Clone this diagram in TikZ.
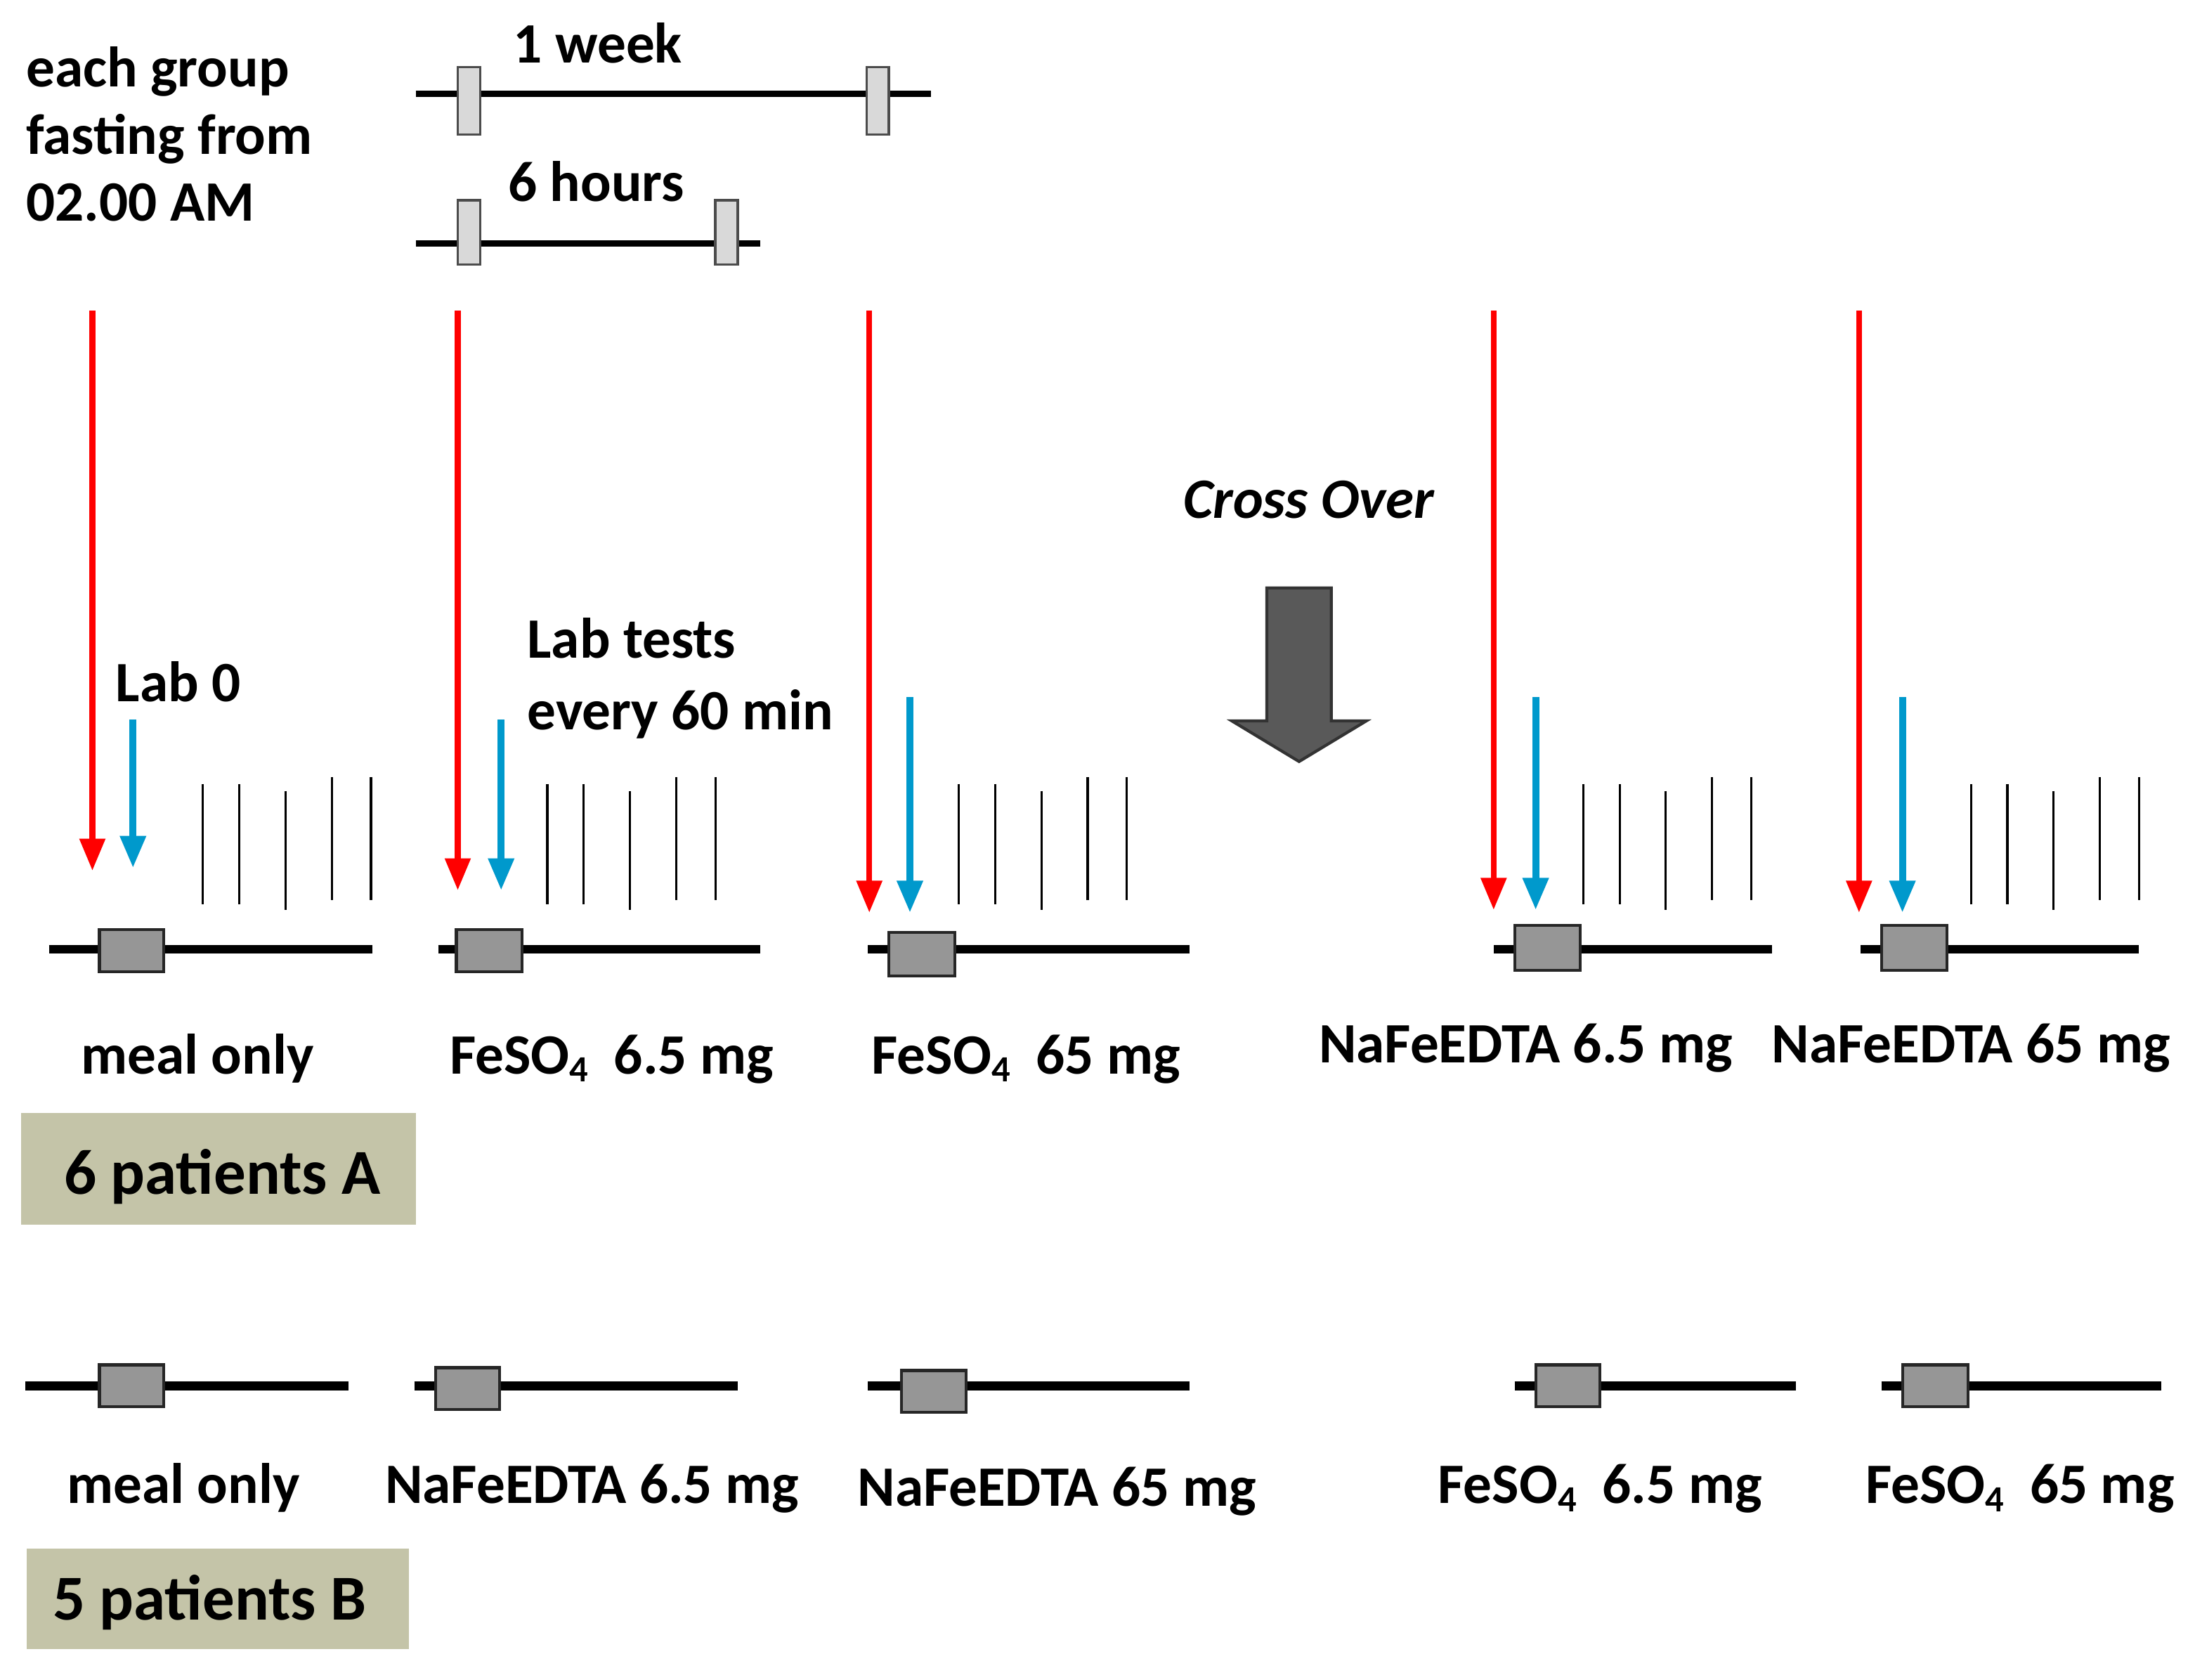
\documentclass[tikz,border=0pt]{standalone}
\usepackage{fontspec}
\setmainfont{Carlito}
\usetikzlibrary{arrows.meta}

\definecolor{fastred}{RGB}{255,0,0}
\definecolor{labblue}{RGB}{0,153,204}
\definecolor{dosegrey}{RGB}{150,150,150}
\definecolor{markgrey}{RGB}{217,217,217}
\definecolor{groupbg}{RGB}{196,196,168}
\definecolor{crossgrey}{RGB}{89,89,89}

\newcommand{\feso}{FeSO\raisebox{-0.3ex}{\fontsize{7.5}{7.5}\selectfont 4}}

\tikzset{
    txt/.style={inner sep=0pt, font=\fontsize{11.6}{13.7}\selectfont\bfseries},
    grouptxt/.style={inner sep=0pt, font=\fontsize{13}{15}\selectfont\bfseries},
    redarrow/.style={draw=fastred, line width=1.2pt, -{Triangle[width=5pt,length=6.5pt]}},
    bluearrow/.style={draw=labblue, line width=1.4pt, -{Triangle[width=5pt,length=6.5pt]}},
    timebar/.style={draw=black, line width=1.8pt},
    scalebar/.style={draw=black, line width=1.3pt},
    dosebox/.style={draw=black!85, fill=dosegrey, line width=0.6pt},
    markbox/.style={draw=black!70, fill=markgrey, line width=0.5pt},
    labtick/.style={draw=black, line width=0.45pt}
}

\begin{document}
\begin{tikzpicture}[x=0.01cm, y=-0.01cm]
    \useasboundingbox (0,0) rectangle (1568,1200);

    % header
    \node[txt, anchor=base west] (fast1) at (18,62) {each group};
    \node[txt, anchor=base west] (fast2) at (18,110) {fasting from};
    \node[txt, anchor=base west] (fast3) at (18,158) {02.00 AM};

    \node[txt, anchor=base] (week) at (427,45) {1 week};
    \draw[scalebar] (297,67) -- (665,67);
    \draw[markbox] (327,48) rectangle (343,96);
    \draw[markbox] (619,48) rectangle (635,96);

    \node[txt, anchor=base] (hours) at (426,144) {6 hours};
    \draw[scalebar] (297,174) -- (543,174);
    \draw[markbox] (327,143) rectangle (343,189);
    \draw[markbox] (511,143) rectangle (527,189);

    % fasting and lab arrows
    \foreach \x/\e in {66/622, 327/636, 621/652, 1067/650, 1328/652}
        \draw[redarrow] (\x,222) -- (\x,\e);
    \foreach \x/\s/\e in {95/514/620, 358/514/636, 650/498/652, 1097/498/650, 1359/498/652}
        \draw[bluearrow] (\x,\s) -- (\x,\e);

    % hourly lab tests
    \foreach \g in {145, 391, 685, 1131, 1408}
        \foreach \d/\t/\b in {0/560/646, 26/560/646, 59/565/650, 92/555/643, 120/555/643}
            \draw[labtick] (\g+\d,\t) -- (\g+\d,\b);

    \node[txt, anchor=base west] (lab0) at (82,501) {Lab 0};
    \node[txt, anchor=base west] (labs1) at (376,470) {Lab tests};
    \node[txt, anchor=base west] (labs2) at (376,521) {every 60 min};

    % cross over
    \node[txt, anchor=base] (cross) at (935,370) {\itshape Cross Over};
    \draw[draw=black!80, fill=crossgrey, line width=0.6pt]
        (905,420) -- (951,420) -- (951,515) -- (976,515) -- (928,544)
        -- (880,515) -- (905,515) -- cycle;

    % group A
    \draw[timebar] (35,678) -- (266,678);
    \draw[dosebox] (71,664) rectangle (117,694);
    \draw[timebar] (313,678) -- (543,678);
    \draw[dosebox] (326,664) rectangle (373,694);
    \draw[timebar] (620,678) -- (850,678);
    \draw[dosebox] (635,666) rectangle (682,697);
    \draw[timebar] (1067,678) -- (1266,678);
    \draw[dosebox] (1082,661) rectangle (1129,693);
    \draw[timebar] (1329,678) -- (1528,678);
    \draw[dosebox] (1344,661) rectangle (1391,693);

    \node[txt, anchor=base] (a1) at (141,767) {meal only};
    \node[txt, anchor=base] (a2) at (437,767) {\feso\ \ 6.5 mg};
    \node[txt, anchor=base] (a3) at (733,767) {\feso\ \ 65 mg};
    \node[txt, anchor=base] (a4) at (1090,759) {NaFeEDTA 6.5 mg};
    \node[txt, anchor=base] (a5) at (1408,759) {NaFeEDTA 65 mg};

    \fill[groupbg] (15,795) rectangle (297,875);
    \node[grouptxt, anchor=base west] (groupA) at (45,853) {6 patients A};

    % group B
    \draw[timebar] (18,990) -- (249,990);
    \draw[dosebox] (71,975) rectangle (117,1005);
    \draw[timebar] (296,990) -- (527,990);
    \draw[dosebox] (311,977) rectangle (357,1007);
    \draw[timebar] (620,990) -- (850,990);
    \draw[dosebox] (644,979) rectangle (690,1009);
    \draw[timebar] (1082,990) -- (1283,990);
    \draw[dosebox] (1097,975) rectangle (1143,1005);
    \draw[timebar] (1344,990) -- (1544,990);
    \draw[dosebox] (1359,975) rectangle (1406,1005);

    \node[txt, anchor=base] (b1) at (131,1074) {meal only};
    \node[txt, anchor=base] (b2) at (423,1074) {NaFeEDTA 6.5 mg};
    \node[txt, anchor=base] (b3) at (755,1076) {NaFeEDTA 65 mg};
    \node[txt, anchor=base] (b4) at (1143,1074) {\feso\ \ 6.5 mg};
    \node[txt, anchor=base] (b5) at (1443,1074) {\feso\ \ 65 mg};

    \fill[groupbg] (19,1106) rectangle (292,1178);
    \node[grouptxt, anchor=base west] (groupB) at (37,1157) {5 patients B};
\end{tikzpicture}
\end{document}
